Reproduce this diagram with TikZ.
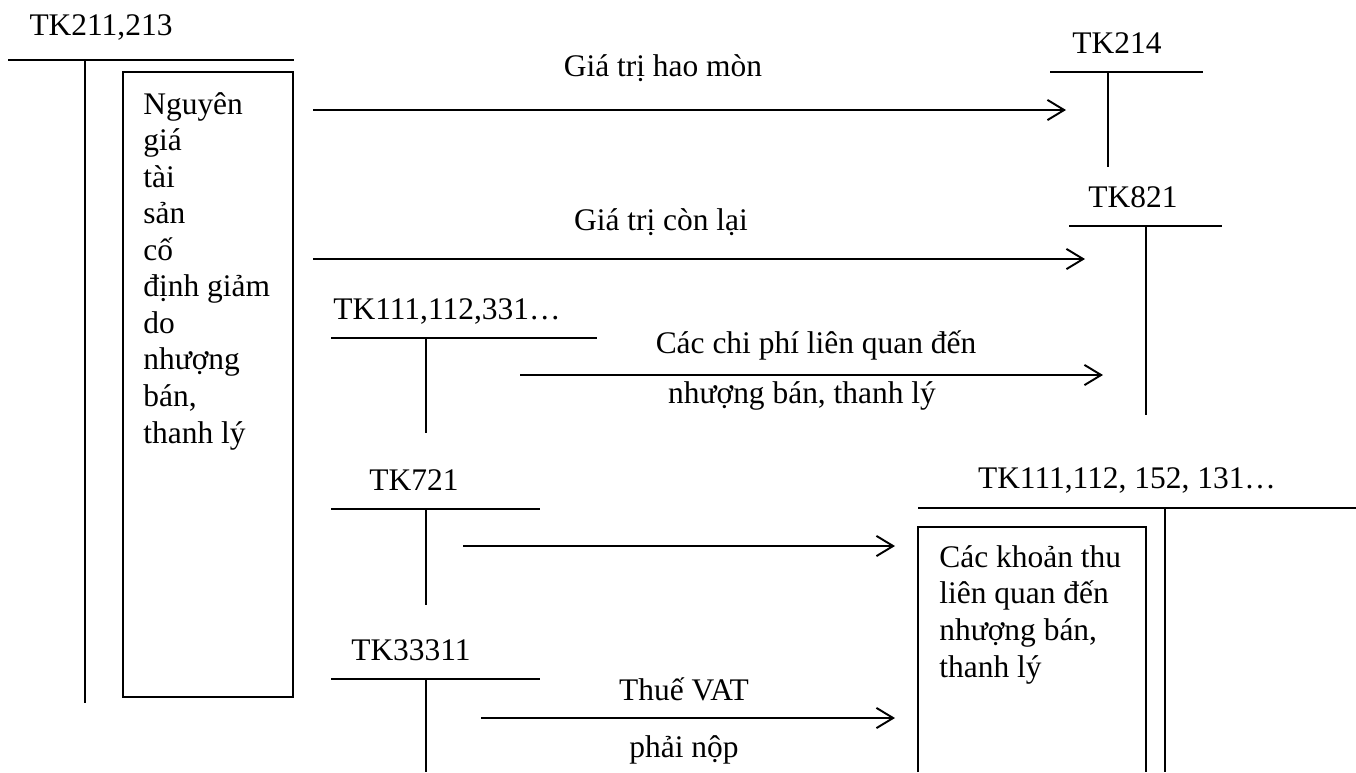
\documentclass[tikz,border=0pt]{standalone}
\usepackage{fontspec}
\setmainfont{Liberation Serif}
\usetikzlibrary{arrows.meta}
\tikzset{every node/.style={font=\fontsize{17.9}{20.8}\selectfont, inner sep=0pt},
	tk/.style={anchor=base},
	lbl/.style={anchor=base},
	boxtext/.style={anchor=base west, align=left},
	tline/.style={line width=1.1pt},
	arr/.style={line width=1.1pt, -{Straight Barb[length=9.5pt, width=11.5pt, line width=1.1pt]}}}

\begin{document}
\begin{tikzpicture}[x=0.02cm, y=-0.02cm]
		\useasboundingbox (0,0) rectangle (1356,772);

		% tai khoan TK211,213
		\node[tk] (tk211) at (101,35) {TK211,213};
		\draw[tline] (8,60) -- (294,60);
		\draw[tline] (85,60) -- (85,703);
		\draw[tline] (123,72) rectangle (293,697);
		% base = dong cuoi
		\node[boxtext] (nguyengia) at (143,443) {Nguyên\\giá\\tài\\sản\\cố\\định giảm\\do\\nhượng\\bán,\\thanh lý};

		% TK214
		\node[tk] (tk214) at (1117,53) {TK214};
		\draw[tline] (1050,72) -- (1203,72);
		\draw[tline] (1108,72) -- (1108,167);

		% TK821
		\node[tk] (tk821) at (1133,207) {TK821};
		\draw[tline] (1069,226) -- (1222,226);
		\draw[tline] (1146,226) -- (1146,415);

		% TK111,112,331...
		\node[tk] (tk111a) at (447,319) {TK111,112,331…};
		\draw[tline] (331,338) -- (597,338);
		\draw[tline] (426,338) -- (426,433);

		% TK721
		\node[tk] (tk721) at (414,490) {TK721};
		\draw[tline] (331,509) -- (540,509);
		\draw[tline] (426,509) -- (426,605);

		% TK33311
		\node[tk] (tk33311) at (411,660) {TK33311};
		\draw[tline] (331,679) -- (540,679);
		\draw[tline] (426,679) -- (426,772);

		% TK111,112,152,131...
		\node[tk] (tk111b) at (1127,488) {TK111,112, 152, 131…};
		\draw[tline] (918,508) -- (1356,508);
		\draw[tline] (1165,508) -- (1165,772);
		\draw[tline] (918,772) -- (918,527) -- (1146,527) -- (1146,772);
		\node[boxtext] (khoanthu) at (939,677) {Các khoản thu\\liên quan đến\\nhượng bán,\\thanh lý};

		% cac but toan
		\coordinate (hm1) at (313,110);  \coordinate (hm2) at (1066,110);
		\coordinate (cl1) at (313,259);  \coordinate (cl2) at (1085,259);
		\coordinate (cp1) at (520,375);  \coordinate (cp2) at (1103,375);
		\coordinate (tn1) at (463,546);  \coordinate (tn2) at (895,546);
		\coordinate (vat1) at (481,718); \coordinate (vat2) at (895,718);

		\draw[arr] (hm1) -- (hm2);
		\draw[arr] (cl1) -- (cl2);
		\draw[arr] (cp1) -- (cp2);
		\draw[arr] (tn1) -- (tn2);
		\draw[arr] (vat1) -- (vat2);

		\node[lbl] (haomon) at (663,76) {Giá trị hao mòn};
		\node[lbl] (conlai) at (661,230) {Giá trị còn lại};
		\node[lbl] (chiphi) at (816,353) {Các chi phí liên quan đến};
		\node[lbl] (chiphi2) at (802,403) {nhượng bán, thanh lý};
		\node[lbl] (thue) at (684,700) {Thuế VAT};
		\node[lbl] (thue2) at (684,757) {phải nộp};

\end{tikzpicture}
\end{document}
